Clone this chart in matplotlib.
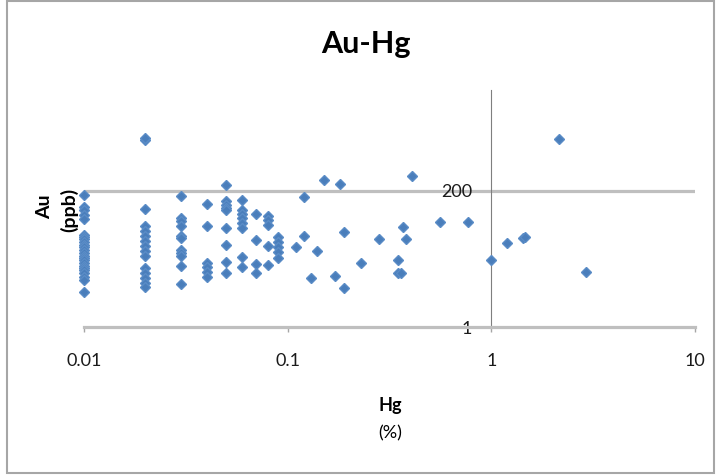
import matplotlib.pyplot as plt
from matplotlib.patches import Rectangle

plt.rcParams['font.family'] = ['Lato', 'DejaVu Sans']

# Hg (%) and Au (ppb) per sample, grouped by Hg value
hg_001 = [0.01] * 24
au_001 = [168, 108, 93, 78, 66, 36, 33, 30, 27, 24, 22, 20, 18, 15.5, 14.5,
          13.6, 12, 10.5, 10, 9.2, 8.1, 7.1, 6.2, 3.9]
hg_002 = [0.02] * 15
au_002 = [1450, 1550, 98, 50, 41, 34, 28, 23, 19, 15.5, 10, 8.1, 6.7, 5.6, 4.8]
hg_003 = [0.03] * 11
au_003 = [165, 69, 60.5, 51, 34, 32, 20, 17.7, 15.5, 10.5, 5.4]
hg_004 = [0.04] * 6
au_004 = [120, 51, 12, 10.4, 8.5, 7.1]
hg_005 = [0.05] * 9
au_005 = [253, 132, 116, 102, 95, 46, 24.4, 12.7, 8.1]
hg_006 = [0.06] * 8
au_006 = [137, 93, 81, 68, 58, 46, 15, 10.3]
hg_007 = [0.07] * 4
au_007 = [80, 29, 11.5, 8.1]
hg_008 = [0.08] * 5
au_008 = [73.5, 63.5, 52, 23.7, 11.1]
hg_009 = [0.09] * 5
au_009 = [32.8, 27, 22.2, 18.3, 14.5]
hg_rest = [0.11, 0.12, 0.12, 0.13, 0.14, 0.15, 0.17, 0.18, 0.19, 0.19, 0.23,
           0.28, 0.35, 0.35, 0.36, 0.37, 0.38, 0.41, 0.56, 0.77, 1.0, 1.2,
           1.43, 1.47, 2.15, 2.9]
au_rest = [22.5, 154, 33.7, 6.8, 19.3, 307, 7.3, 255, 40.5, 4.5, 12,
           30.8, 13.6, 8.3, 8.3, 48.6, 30.8, 359, 59.5, 59, 13.6, 26.4,
           32, 32.5, 1500, 8.6]

hg = hg_001 + hg_002 + hg_003 + hg_004 + hg_005 + hg_006 + hg_007 + hg_008 + hg_009 + hg_rest
au = au_001 + au_002 + au_003 + au_004 + au_005 + au_006 + au_007 + au_008 + au_009 + au_rest

x_ticks = [0.01, 0.1, 1, 10]
x_labels = ['0.01', '0.1', '1', '10']
y_ticks = [1, 200]
y_labels = ['1', '200']

W, H = 716, 475
fig = plt.figure(figsize=(W / 100, H / 100), dpi=100)
ax = fig.add_axes([84 / W, 1 - 327 / H, 611 / W, 237 / H])

ax.plot(hg, au, 'D', ms=4.8, color='#4a7ebb', mec='#5a8cc6', mew=1.0,
        zorder=3, clip_on=False)

ax.set_xscale('log')
ax.set_yscale('log', base=200)
ax.set_xlim(0.01, 10)
ax.set_ylim(1, 10000)

ax.set_xticks(x_ticks)
ax.set_xticklabels(x_labels)
ax.xaxis.set_minor_locator(plt.NullLocator())
ax.set_yticks(y_ticks)
ax.set_yticklabels(y_labels)
ax.yaxis.set_minor_locator(plt.NullLocator())

ax.tick_params(axis='x', length=3.5, width=1, color='#a6a6a6', pad=15,
               labelsize=13, labelcolor='#1a1a1a')
ax.tick_params(axis='y', length=0, pad=14, labelsize=13, labelcolor='#1a1a1a')

# gridline at 200 only
ax.axhline(200, color='#bfbfbf', lw=2.3, zorder=1)

for s in ['top', 'right']:
    ax.spines[s].set_visible(False)
ax.spines['bottom'].set_color('#bfbfbf')
ax.spines['bottom'].set_linewidth(2.3)
ax.spines['left'].set_position(('data', 1))
ax.spines['left'].set_color('#7f7f7f')
ax.spines['left'].set_linewidth(0.8)

fig.text(366 / W, 1 - 44 / H, 'Au-Hg', ha='center', va='center',
         fontsize=22, fontweight='bold')
fig.text(390 / W, 1 - 406 / H, 'Hg', ha='center', va='center',
         fontsize=13, fontweight='bold')
fig.text(390 / W, 1 - 433 / H, '(%)', ha='center', va='center', fontsize=13)
fig.text(45 / W, 1 - 207 / H, 'Au', ha='center', va='center', rotation=90,
         fontsize=14, fontweight='bold')
fig.text(69 / W, 1 - 210 / H, '(ppb)', ha='center', va='center', rotation=90,
         fontsize=14, fontweight='bold')

fig.patches.append(Rectangle((7 / W, 2 / H), 707 / W, 472 / H,
                             transform=fig.transFigure, fill=False,
                             edgecolor='#a6a6a6', lw=1.5))

fig.savefig('out.png', dpi=100)
